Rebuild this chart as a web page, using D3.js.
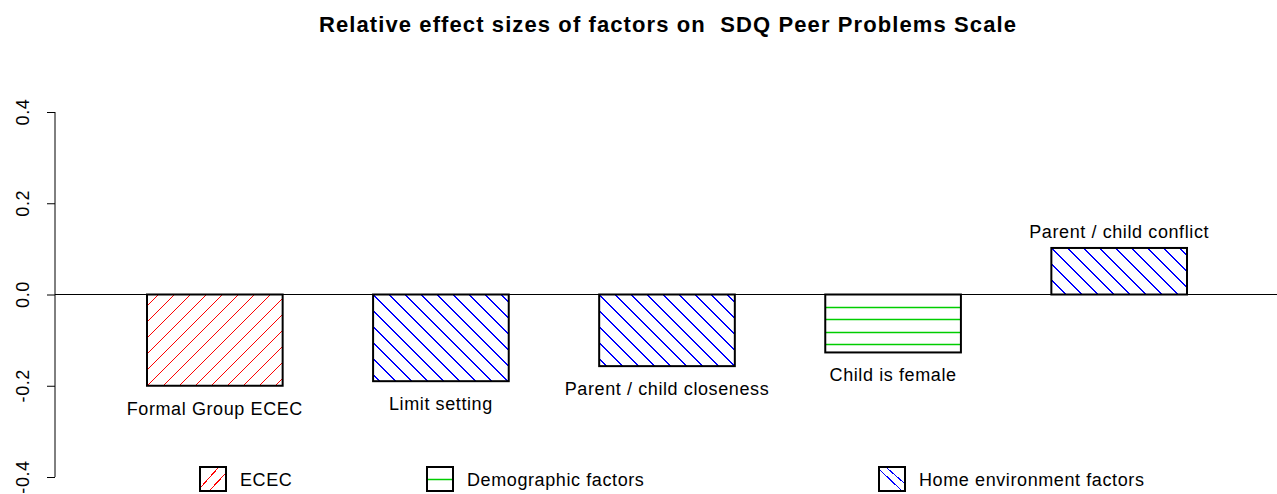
<!DOCTYPE html>
<html>
<head>
<meta charset="utf-8">
<script src="https://cdn.jsdelivr.net/npm/d3@7"></script>
<style>
body{margin:0;background:#fff;}
svg{display:block;font-family:"Liberation Sans",Arial,sans-serif;}
</style>
</head>
<body>
<div id="chart"></div>
<script>
var factors = ["Formal Group ECEC","Limit setting","Parent / child closeness","Child is female","Parent / child conflict"];
var effects = [-0.2,-0.19,-0.157,-0.127,0.102];
var groups = ["ecec","home","home","demo","home"];
var groupNames = ["ECEC","Demographic factors","Home environment factors"];
var groupKeys = ["ecec","demo","home"];
var yTicks = [-0.4,-0.2,0,0.2,0.4];

var W = 1277, H = 494;
var hatchColor = {ecec:"#ff0000", demo:"#00cd00", home:"#0000ff"};
var fmt = function(d){return d3.format(".1f")(d).replace("\u2212","-");};

var svg = d3.select("#chart").append("svg")
	.attr("width",W).attr("height",H);
var defs = svg.append("defs");

var x = d3.scaleBand().domain(factors).range([147,1187]).paddingInner(0.4).paddingOuter(0);
var y = d3.scaleLinear().domain([-0.4,0.4]).range([477,112]);

// draw hatching lines inside a box (clipped)
function hatchBox(g,id,kind,bx,by,bw,bh,step){
	defs.append("clipPath").attr("id",id).append("rect")
		.attr("x",bx).attr("y",by).attr("width",bw).attr("height",bh);
	var hg = g.append("g").attr("clip-path","url(#"+id+")")
		.attr("stroke",hatchColor[kind]).attr("fill","none");
	var d = "";
	if(kind=="demo"){
		hg.attr("stroke-width",1.5);
		for(var yy=by+step; yy<by+bh; yy+=step) d += "M"+bx+","+(Math.round(yy)+0.5)+"H"+(bx+bw);
	}else if(kind=="ecec"){
		hg.attr("stroke-width",1).attr("shape-rendering","crispEdges");
		// up-right lines
		for(var c=0; c<bw+bh; c+=step) d += "M"+(bx+c)+","+(by+bh)+"L"+(bx+c+bh)+","+by;
		for(var c2=-step; c2>-bh; c2-=step) d += "M"+(bx+c2)+","+(by+bh)+"L"+(bx+c2+bh)+","+by;
	}else{
		hg.attr("stroke-width",1).attr("shape-rendering","crispEdges");
		// down-right lines
		for(var c=0; c<bw+bh; c+=step) d += "M"+(bx+c)+","+by+"L"+(bx+c+bh)+","+(by+bh);
		for(var c2=-step; c2>-bh; c2-=step) d += "M"+(bx+c2)+","+by+"L"+(bx+c2+bh)+","+(by+bh);
	}
	hg.append("path").attr("d",d);
}

// title
svg.append("text")
	.attr("x",668).attr("y",32)
	.attr("text-anchor","middle")
	.style("font-weight","bold").style("font-size","22px")
	.style("letter-spacing","1.1px")
	.style("white-space","pre")
	.text("Relative effect sizes of factors on  SDQ Peer Problems Scale");

// y axis
var yAxis = d3.axisLeft(y).tickValues(yTicks).tickSize(8).tickFormat(fmt);
var gy = svg.append("g").attr("transform","translate(55,0)").call(yAxis);
gy.select(".domain").attr("d","M0,"+y(0.4)+"V"+y(-0.4)).attr("stroke","#000");
gy.selectAll(".tick line").attr("stroke","#000");
gy.selectAll(".tick text").remove();
svg.selectAll(".ylab").data(yTicks).enter().append("text")
	.attr("class","ylab")
	.attr("transform",function(d){return "translate(29,"+y(d)+")rotate(-90)";})
	.attr("text-anchor","middle")
	.style("font-size","18px")
	.style("letter-spacing","0.6px")
	.text(fmt);

// zero line
svg.append("line").attr("x1",55).attr("x2",W).attr("y1",y(0)).attr("y2",y(0))
	.attr("stroke","#000").attr("stroke-width",1);

// bars
var bars = svg.selectAll(".bar").data(factors).enter().append("g").attr("class","bar");
bars.each(function(d,i){
	var g = d3.select(this);
	var bx = x(d), by = y(Math.max(0,effects[i])), bh = Math.abs(y(effects[i])-y(0));
	var kind = groups[i];
	hatchBox(g,"clip"+i,kind,bx,by,x.bandwidth(),bh,kind=="demo"?12.4:16);
	g.append("rect")
		.attr("x",bx).attr("y",by)
		.attr("width",x.bandwidth()).attr("height",bh)
		.attr("fill","none")
		.attr("stroke","#000").attr("stroke-width",2);
});

bars.append("text")
	.attr("x",function(d){return x(d)+x.bandwidth()/2;})
	.attr("y",function(d,i){return effects[i]<0 ? y(effects[i])+29 : y(effects[i])-10;})
	.attr("text-anchor","middle")
	.style("font-size","18px")
	.style("letter-spacing","0.6px")
	.text(function(d){return d;});

// legend
var legX = [200,427,879];
var leg = svg.selectAll(".leg").data(groupKeys).enter().append("g").attr("class","leg")
	.attr("transform",function(d,i){return "translate("+legX[i]+",467)";});
leg.each(function(d){
	var g = d3.select(this).append("g").attr("fill","none").attr("stroke",hatchColor[d]);
	if(d=="ecec"){
		g.attr("shape-rendering","crispEdges").append("path").attr("d","M1,20 L18,1 M10,23 L25,7");
	}else if(d=="demo"){
		g.attr("stroke-width",1.5).append("path").attr("d","M1,12.5 H25");
	}else{
		g.attr("shape-rendering","crispEdges").append("path").attr("d","M1,3 L22,23 M8,1 L25,16");
	}
});
leg.append("rect").attr("width",26).attr("height",24)
	.attr("fill","none")
	.attr("stroke","#000").attr("stroke-width",2);
leg.append("text").attr("x",40).attr("y",19)
	.style("font-size","18px")
	.style("letter-spacing","0.6px")
	.text(function(d,i){return groupNames[i];});
</script>
</body>
</html>
